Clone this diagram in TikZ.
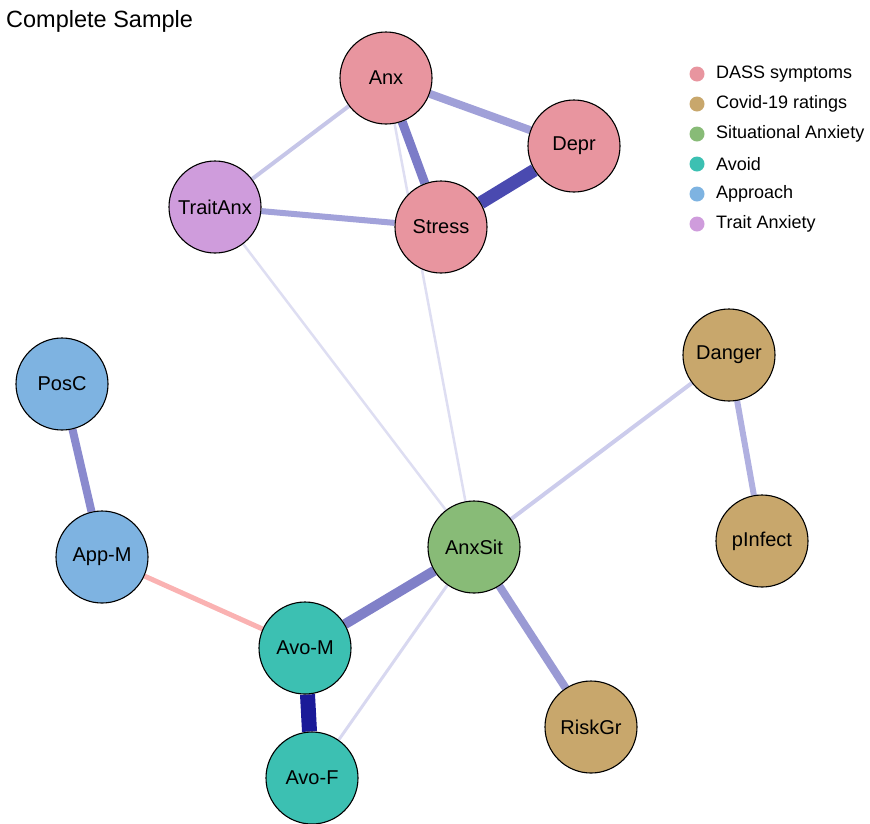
\documentclass[tikz,border=0pt]{standalone}
\usepackage{fontspec}
\setmainfont{Liberation Sans}
\pgfdeclarelayer{bg}
\pgfsetlayers{bg,main}
\definecolor{dass}{HTML}{E8959F}
\definecolor{covid}{HTML}{C8A76C}
\definecolor{sit}{HTML}{88BB77}
\definecolor{avoid}{HTML}{3CC0B2}
\definecolor{appr}{HTML}{7EB3E1}
\definecolor{trait}{HTML}{CF9CDC}
\tikzset{
  nd/.style={circle, draw=black, line width=1.1pt, minimum size=92pt, inner sep=0pt, font=\fontsize{20}{23}\selectfont},
  lg/.style={circle, minimum size=15pt, inner sep=0pt},
  lt/.style={anchor=west, font=\fontsize{18}{21}\selectfont, inner sep=0pt},
  ed/.style={line width=#1},
}
\begin{document}
\begin{tikzpicture}[x=1pt,y=-1pt]
\useasboundingbox (0,0) rectangle (870,823);
\node[anchor=base west, inner sep=0pt, font=\fontsize{23.5}{27}\selectfont] (title) at (6,27) {Complete Sample};

\node[nd, fill=dass] (anx) at (386,78) {Anx};
\node[nd, fill=dass] (depr) at (574,146) {Depr};
\node[nd, fill=dass] (stress) at (441,227) {Stress};
\node[nd, fill=trait] (trait) at (215,207) {TraitAnx};
\node[nd, fill=appr] (posc) at (62,384) {PosC};
\node[nd, fill=appr] (appm) at (102,557) {App-M};
\node[nd, fill=sit] (anxsit) at (474,547) {AnxSit};
\node[nd, fill=covid] (danger) at (729,355) {Danger};
\node[nd, fill=covid] (pinf) at (762,541) {pInfect};
\node[nd, fill=avoid] (avom) at (305,648) {Avo-M};
\node[nd, fill=covid] (riskgr) at (591,727) {RiskGr};
\node[nd, fill=avoid] (avof) at (312,778) {Avo-F};

\begin{pgfonlayer}{bg}
\draw[ed=8pt, color={rgb,255:red,160;green,160;blue,216}] (anx) -- (depr);
\draw[ed=9pt, color={rgb,255:red,124;green,124;blue,200}] (anx) -- (stress);
\draw[ed=13pt, color={rgb,255:red,74;green,74;blue,176}] (stress) -- (depr);
\draw[ed=4pt, color={rgb,255:red,198;green,198;blue,232}] (anx) -- (trait);
\draw[ed=6pt, color={rgb,255:red,162;green,162;blue,218}] (trait) -- (stress);
\draw[ed=2.5pt, color={rgb,255:red,222;green,222;blue,242}] (trait) -- (anxsit);
\draw[ed=2.5pt, color={rgb,255:red,222;green,222;blue,242}] (anx) -- (anxsit);
\draw[ed=4pt, color={rgb,255:red,204;green,204;blue,236}] (danger) -- (anxsit);
\draw[ed=6pt, color={rgb,255:red,176;green,176;blue,224}] (danger) -- (pinf);
\draw[ed=8pt, color={rgb,255:red,138;green,138;blue,206}] (posc) -- (appm);
\draw[ed=5pt, color={rgb,255:red,250;green,178;blue,178}] (appm) -- (avom);
\draw[ed=10pt, color={rgb,255:red,128;green,128;blue,200}] (anxsit) -- (avom);
\draw[ed=15pt, color={rgb,255:red,26;green,26;blue,152}] (avom) -- (avof);
\draw[ed=3pt, color={rgb,255:red,216;green,216;blue,240}] (anxsit) -- (avof);
\draw[ed=8pt, color={rgb,255:red,154;green,154;blue,212}] (anxsit) -- (riskgr);
\end{pgfonlayer}

\node[lg, fill=dass] (l1) at (697,74) {};
\node[lg, fill=covid] (l2) at (697,104) {};
\node[lg, fill=sit] (l3) at (697,134) {};
\node[lg, fill=avoid] (l4) at (697,164) {};
\node[lg, fill=appr] (l5) at (697,194) {};
\node[lg, fill=trait] (l6) at (697,224) {};
\node[lt] (t1) at (716,74) {DASS symptoms};
\node[lt] (t2) at (716,104) {Covid-19 ratings};
\node[lt] (t3) at (716,134) {Situational Anxiety};
\node[lt] (t4) at (716,164) {Avoid};
\node[lt] (t5) at (716,194) {Approach};
\node[lt] (t6) at (716,224) {Trait Anxiety};
\end{tikzpicture}
\end{document}
